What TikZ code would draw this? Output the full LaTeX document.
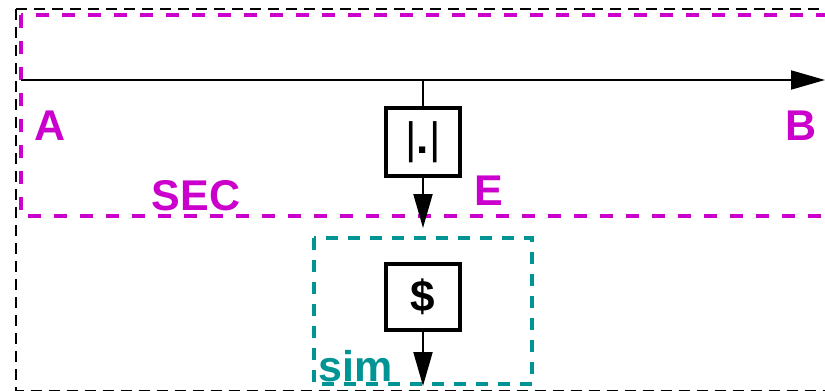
\documentclass[tikz,border=0pt]{standalone}
\usepackage{fontspec}
\setmainfont{Liberation Sans}
\usetikzlibrary{arrows.meta,positioning}
\definecolor{mag}{HTML}{CC00CC}
\definecolor{teal}{HTML}{009494}
\begin{document}
\begin{tikzpicture}[x=0.5pt,y=-0.5pt, lbl/.style={font=\bfseries\fontsize{21.5}{24}\selectfont,anchor=base,inner sep=0pt}, opbox/.style={draw,line width=2pt,minimum width=37pt,minimum height=34pt,inner sep=0pt,font=\fontsize{22}{24}\selectfont}, arr/.style={-{Triangle[length=17pt,width=9.5pt]},line width=1pt}, outer/.style={dashed,dash pattern=on 5.5pt off 3.5pt,line width=1pt}, region/.style={mag,line width=2.2pt,dash pattern=on 6.5pt off 6.5pt}, simbox/.style={teal,line width=2pt,dash pattern=on 6pt off 5pt}]
\useasboundingbox (0,0) rectangle (825,391);
\clip (0,0) rectangle (825,391);
% frames
\draw[outer] (16,9) rectangle (900,390.5);
\draw[region] (21,15) rectangle (900,216);
\draw[simbox] (314,238) rectangle (532,384);
% blocks
\node[opbox] (abs) at (423,142) {|\textbf{.}|};
\node[opbox,minimum height=33pt,font=\bfseries\fontsize{22}{24}\selectfont] (dollar) at (423,297) {\$};
% labels
\node[lbl,text=mag] (A) at (50,140) {A};
\node[lbl,text=mag] (B) at (801,140) {B};
\node[lbl,text=mag] (SEC) at (196,210) {SEC};
\node[lbl,text=mag] (E) at (489,205) {E};
\node[lbl,text=teal] (sim) at (356,381) {sim};
\coordinate (start) at (21,80);\coordinate (end) at (825,80);\coordinate (tap) at (423,80);\coordinate (absout) at (423,228);\coordinate (simout) at (423,386);
\draw[arr] (start)--(end);\draw[line width=1pt] (tap)--(abs.north);\draw[arr] (abs.south)--(absout);\draw[arr] (dollar.south)--(simout);
\end{tikzpicture}
\end{document}
